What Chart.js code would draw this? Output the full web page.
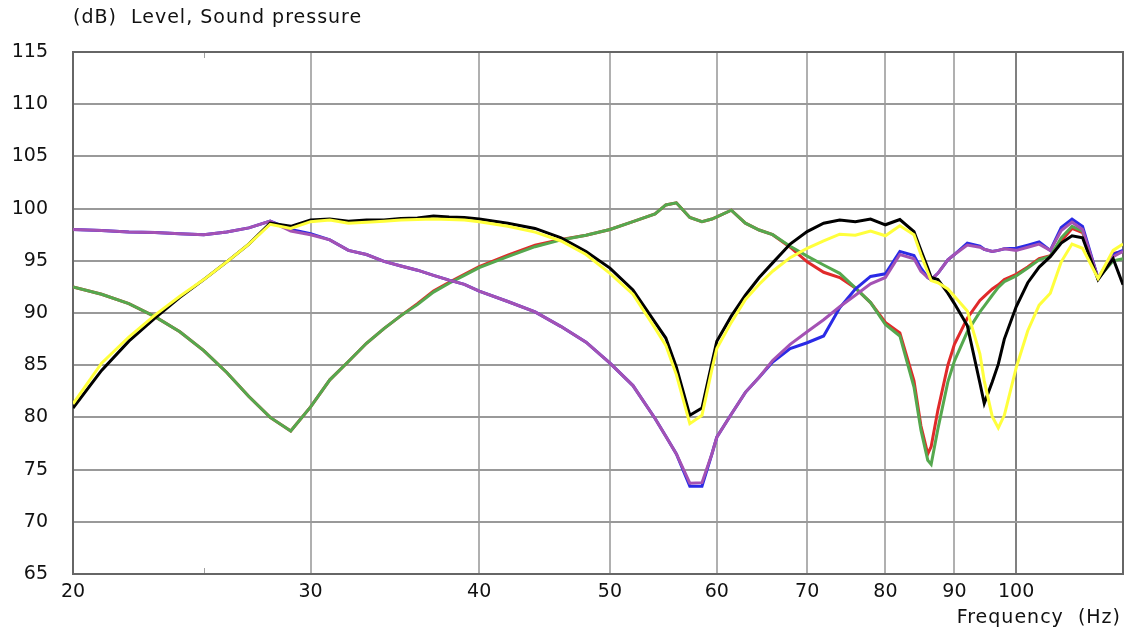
<!DOCTYPE html>
<html>
<head>
<meta charset="utf-8">
<script src="https://cdn.jsdelivr.net/npm/chart.js@4.4.0/dist/chart.umd.min.js"></script>
<style>
  html, body { margin: 0; padding: 0; background: #fff; }
</style>
</head>
<body>
<canvas id="spl" width="1127" height="633"></canvas>
<script>
// frequencies (Hz) shared by all curves
const freqs = [20, 21, 22, 23, 24, 25, 26, 27, 28, 29, 30, 31, 32, 33, 34, 35, 36, 37, 38, 39, 40,
  42, 44, 46, 48, 50, 52, 54,
  55, 56, 57.3, 58.5, 59.5, 60,
  61.5, 63, 64.5, 66,
  68, 70, 72, 74, 76, 78, 80, 82, 84,
  85, 86, 86.5, 87.5, 89, 90,
  92, 94, 94.7, 96, 97, 98,
  100, 102, 104, 106, 108, 110, 112,
  115, 118, 120];

// sound pressure level (dB), one array per curve
const blackLevel = [80.9, 84.5, 87.3, 89.5, 91.5, 93.2, 94.9, 96.6, 98.6, 98.3, 98.9, 99.0, 98.8, 98.9, 98.9, 99.05, 99.1, 99.3, 99.2, 99.15, 99.0,
  98.6, 98.1, 97.2, 95.9, 94.3, 92.2, 89.1,
  87.6, 84.8, 80.2, 80.9, 85.2, 87.3,
  89.7, 91.7, 93.4, 94.8,
  96.6, 97.8, 98.6, 98.9, 98.75, 99.0, 98.45, 98.95, 97.8,
  96.0, 94.3, 93.4, 93.2, 91.9, 90.9,
  88.8, 83.3, 81.35, 83.4, 85.1, 87.5,
  90.6, 92.9, 94.4, 95.4, 96.7, 97.4, 97.2,
  93.2, 95.2, 92.7];

const yellowLevel = [81.3, 85.2, 87.7, 89.8, 91.6, 93.2, 94.9, 96.6, 98.5, 98.1, 98.75, 98.9, 98.6, 98.7, 98.8, 98.9, 98.95, 99.0, 98.95, 98.9, 98.75,
  98.3, 97.75, 96.9, 95.6, 93.8, 91.8, 88.55,
  86.9, 84.1, 79.4, 80.2, 84.6, 86.6,
  89.1, 91.3, 92.75, 94.0,
  95.3, 96.2, 96.9, 97.55, 97.45, 97.85, 97.4, 98.35, 97.5,
  95.6, 93.9, 93.1, 92.9, 92.3, 91.6,
  90.2, 86.1, 83.5, 80.1, 79.0, 80.2,
  84.75, 88.3, 90.75, 91.9, 94.9, 96.6, 96.2,
  93.3, 96.0, 96.6];

const redLevel = [92.5, 91.8, 90.9, 89.65, 88.2, 86.4, 84.3, 82.0, 80.0, 78.7, 81.0, 83.6, 85.35, 87.1, 88.5, 89.75, 90.9, 92.1, 92.95, 93.7, 94.45,
  95.55, 96.5, 97.05, 97.45, 98.0, 98.75, 99.5,
  100.35, 100.55, 99.15, 98.75, 99.0, 99.2,
  99.85, 98.6, 97.95, 97.5,
  96.3, 94.9, 93.9, 93.4, 92.4, 91.0, 89.1, 88.1, 83.5,
  79.2, 76.5, 77.2, 80.7, 85.0, 87.0,
  89.5, 91.2, 91.6, 92.3, 92.7, 93.2,
  93.7, 94.4, 95.2, 95.5, 96.9, 98.1, 97.7,
  93.3, 95.7, 95.9];

const greenLevel = [92.5, 91.8, 90.9, 89.65, 88.2, 86.4, 84.3, 82.0, 80.0, 78.7, 81.0, 83.6, 85.35, 87.1, 88.5, 89.75, 90.8, 92.0, 92.85, 93.6, 94.35,
  95.4, 96.35, 97.0, 97.45, 98.0, 98.75, 99.5,
  100.35, 100.55, 99.15, 98.75, 99.0, 99.2,
  99.85, 98.6, 97.95, 97.5,
  96.4, 95.45, 94.6, 93.8, 92.4, 91.0, 88.9, 87.8, 82.9,
  78.8, 75.9, 75.5, 78.9, 83.4, 85.4,
  88.2, 90.1, 90.65, 91.7, 92.45, 93.0,
  93.55, 94.3, 95.1, 95.45, 97.2, 98.3, 97.85,
  93.3, 95.0, 95.2];

const blueLevel = [98.0, 97.9, 97.75, 97.7, 97.6, 97.5, 97.75, 98.15, 98.8, 98.0, 97.6, 97.0, 96.0, 95.6, 94.95, 94.5, 94.1, 93.6, 93.15, 92.75, 92.1,
  91.1, 90.1, 88.7, 87.2, 85.2, 83.05, 79.9,
  78.2, 76.5, 73.4, 73.4, 76.5, 78.1,
  80.3, 82.4, 83.85, 85.3,
  86.6, 87.15, 87.8, 90.5, 92.3, 93.5, 93.75, 95.9, 95.5,
  94.3, 93.4, 93.2, 93.8, 95.1, 95.6,
  96.7, 96.4, 96.1, 95.9, 96.0, 96.15,
  96.2, 96.5, 96.8, 96.0, 98.2, 99.0, 98.3,
  93.3, 95.6, 96.0];

const purpleLevel = [98.0, 97.9, 97.75, 97.7, 97.6, 97.5, 97.75, 98.15, 98.8, 97.85, 97.5, 97.0, 96.0, 95.6, 94.95, 94.5, 94.1, 93.6, 93.15, 92.75, 92.1,
  91.1, 90.1, 88.7, 87.2, 85.2, 83.05, 79.9,
  78.2, 76.5, 73.7, 73.75, 76.5, 78.1,
  80.3, 82.4, 83.85, 85.45,
  87.0, 88.2, 89.35, 90.6, 91.7, 92.8, 93.4, 95.6, 95.2,
  94.0, 93.4, 93.2, 93.8, 95.1, 95.6,
  96.5, 96.3, 96.1, 95.9, 96.0, 96.15,
  96.0, 96.3, 96.6, 96.0, 97.9, 98.7, 98.0,
  93.3, 95.4, 95.9];

// axis ticks
const xTicks = [20, 30, 40, 50, 60, 70, 80, 90, 100];
const yMin = 65, yMax = 115, yStep = 5;

const FONT = '"DejaVu Sans", Verdana, sans-serif';

// junta as frequências com os níveis
function toPoints(levels) {
  return freqs.map((f, i) => ({ x: f, y: levels[i] }));
}

function curve(label, levels, color, order) {
  return {
    label: label,
    data: toPoints(levels),
    borderColor: color,
    borderWidth: 3,
    pointRadius: 0,
    tension: 0,
    fill: false,
    order: order
  };
}

// moldura, marca de 25 Hz e textos
const framePlugin = {
  id: 'frame',
  beforeDatasetsDraw(chart) {
    const { ctx, chartArea: a } = chart;
    const x25 = Math.round(chart.scales.x.getPixelForValue(25)) + 0.5;
    ctx.save();
    ctx.strokeStyle = '#a0a0a0';
    ctx.lineWidth = 1;
    ctx.beginPath();
    ctx.moveTo(x25, a.top);
    ctx.lineTo(x25, a.top + 6);
    ctx.moveTo(x25, a.bottom);
    ctx.lineTo(x25, a.bottom - 6);
    ctx.stroke();
    ctx.strokeStyle = '#666';
    ctx.lineWidth = 2;
    ctx.strokeRect(a.left, a.top, a.right - a.left, a.bottom - a.top);
    ctx.restore();
  },
  afterDraw(chart) {
    const ctx = chart.ctx;
    ctx.save();
    ctx.fillStyle = '#111';
    ctx.font = '19px ' + FONT;
    ctx.letterSpacing = '1px';
    ctx.textBaseline = 'middle';
    ctx.textAlign = 'left';
    ctx.fillText('(dB)  Level, Sound pressure', 73, 18);
    ctx.textAlign = 'right';
    ctx.fillText('Frequency  (Hz)', 1121, 618);
    ctx.restore();
  }
};

const ctx = document.getElementById('spl').getContext('2d');
const splChart = new Chart(ctx, {
  type: 'line',
  data: {
    datasets: [
      curve('red', redLevel, '#e02a2a', 6),
      curve('green', greenLevel, '#55a84e', 5),
      curve('blue', blueLevel, '#2a2ae6', 4),
      curve('purple', purpleLevel, '#a452b4', 3),
      curve('black', blackLevel, '#000000', 2),
      curve('yellow', yellowLevel, '#ffff3c', 1)
    ]
  },
  plugins: [framePlugin],
  options: {
    responsive: false,
    animation: false,
    layout: { padding: { left: 0, top: 52, right: 4, bottom: 19 } },
    plugins: {
      legend: { display: false },
      tooltip: { enabled: false }
    },
    scales: {
      x: {
        type: 'logarithmic',
        min: 20,
        max: 120,
        afterBuildTicks: (scale) => {
          scale.ticks = xTicks.map(v => ({ value: v }));
        },
        afterFit: (scale) => { scale.height = 40; },
        grid: {
          drawTicks: false,
          lineWidth: 2,
          color: (c) => (c.tick && c.tick.value === 100) ? '#808080' : '#b0b0b0'
        },
        border: { display: false },
        ticks: {
          autoSkip: false,
          maxRotation: 0,
          padding: 7,
          color: '#111',
          font: { family: FONT, size: 19 },
          callback: (v) => String(v)
        }
      },
      y: {
        min: yMin,
        max: yMax,
        afterFit: (scale) => { scale.width = 73; },
        grid: {
          drawTicks: false,
          lineWidth: 2,
          color: '#999'
        },
        border: { display: false },
        ticks: {
          stepSize: yStep,
          padding: 25,
          color: '#111',
          font: { family: FONT, size: 19 }
        }
      }
    }
  }
});
</script>
</body>
</html>
